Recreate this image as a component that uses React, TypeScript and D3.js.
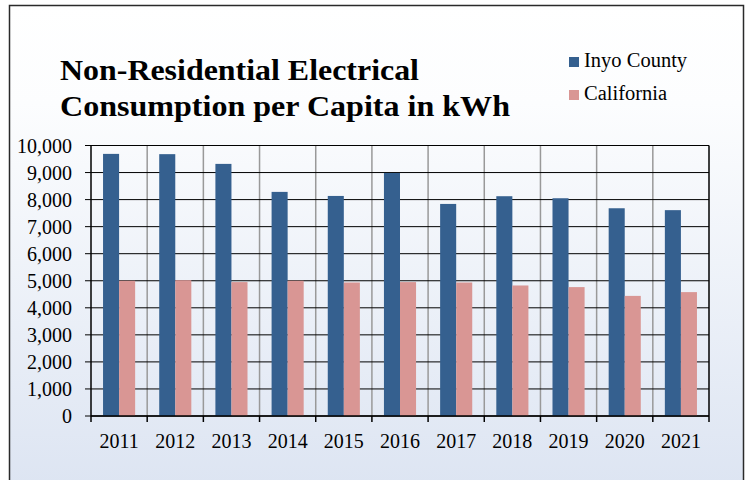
import React from "react";
import { scaleBand, scaleLinear, format } from "d3";

const years = ["2011", "2012", "2013", "2014", "2015", "2016", "2017", "2018", "2019", "2020", "2021"];
const inyo = [9690, 9680, 9320, 8285, 8135, 8985, 7840, 8125, 8050, 7680, 7610];
const california = [5000, 5020, 4950, 5000, 4935, 4950, 4935, 4825, 4765, 4440, 4580];
const seriesNames = ["Inyo County", "California"];
const colors = ["#35608f", "#d99694"];
const yTicks = [0, 1000, 2000, 3000, 4000, 5000, 6000, 7000, 8000, 9000, 10000];
const titleLines = ["Non-Residential Electrical", "Consumption per Capita in kWh"];

const width = 749;
const height = 480;
const margin = { top: 145.5, right: 40, bottom: 64, left: 91 };
const font = '"Liberation Serif", "Times New Roman", serif';

const App = () => {
  const innerWidth = width - margin.left - margin.right;
  const innerHeight = height - margin.top - margin.bottom;

  const xScale = scaleBand().domain(years).range([0, innerWidth]).padding(0);
  const xInner = scaleBand()
    .domain(seriesNames)
    .range([0, xScale.bandwidth()])
    .paddingInner(0)
    .paddingOuter(0.75);
  const yScale = scaleLinear().domain([0, 10000]).range([innerHeight, 0]);
  const fmt = format(",");

  const series = [inyo, california];

  return (
    <svg width={width} height={height} style={{ position: "absolute", left: 0, top: 0, fontFamily: font }}>
      <defs>
        <linearGradient id="bg" x1="0" y1="0" x2="0" y2="1">
          <stop offset="0" stopColor="#ffffff" />
          <stop offset="0.2" stopColor="#fcfdfe" />
          <stop offset="1" stopColor="#dce4f2" />
        </linearGradient>
      </defs>
      <rect x={0} y={0} width={width} height={height} fill="#ffffff" />
      <rect x={9.5} y={5.5} width={734} height={490} fill="url(#bg)" stroke="#2a2a2a" strokeWidth={1.5} />

      {/* title - reference glyphs are a bit wider than Times */}
      <text x={60} y={80} fontSize={29} fontWeight="bold" fill="#000" textLength={359} lengthAdjust="spacingAndGlyphs">
        {titleLines[0]}
      </text>
      <text x={60} y={116} fontSize={29} fontWeight="bold" fill="#000" textLength={450} lengthAdjust="spacingAndGlyphs">
        {titleLines[1]}
      </text>

      {/* legend */}
      {seriesNames.map((name, i) => (
        <g key={name} transform={`translate(569, ${57 + i * 33})`}>
          <rect x={0} y={0} width={10} height={10} fill={colors[i]} />
          <text x={15} y={10} fontSize={20.5} fill="#000">{name}</text>
        </g>
      ))}

      <g transform={`translate(${margin.left}, ${margin.top})`}>
        {/* vertical grid */}
        {years.map((y, i) =>
          i > 0 ? (
            <line key={y} x1={xScale(y)} x2={xScale(y)} y1={0} y2={innerHeight} stroke="#999" strokeWidth={1.5} />
          ) : null
        )}
        {/* horizontal grid */}
        {yTicks.map(t => (
          <line key={t} x1={-6} x2={innerWidth} y1={yScale(t)} y2={yScale(t)} stroke="#000" strokeWidth={1} />
        ))}

        {/* bars */}
        {series.map((vals, si) =>
          vals.map((v, i) => (
            <rect
              key={`${si}-${i}`}
              x={(xScale(years[i]) ?? 0) + (xInner(seriesNames[si]) ?? 0)}
              y={yScale(v)}
              width={xInner.bandwidth()}
              height={innerHeight - yScale(v)}
              fill={colors[si]}
            />
          ))
        )}

        {/* axes */}
        <line x1={0} x2={0} y1={0} y2={innerHeight} stroke="#000" strokeWidth={1.5} />
        <line x1={innerWidth} x2={innerWidth} y1={0} y2={innerHeight} stroke="#000" strokeWidth={1.5} />
        <line x1={0} x2={innerWidth} y1={innerHeight} y2={innerHeight} stroke="#000" strokeWidth={1.5} />
        {years.concat(["end"]).map((y, i) => {
          const x = i < years.length ? xScale(y) ?? 0 : innerWidth;
          return <line key={`t${i}`} x1={x} x2={x} y1={innerHeight} y2={innerHeight + 6} stroke="#000" strokeWidth={1.5} />;
        })}

        {yTicks.map(t => (
          <text key={`l${t}`} x={-19} y={yScale(t)} dy="0.35em" textAnchor="end" fontSize={20} fill="#000">
            {fmt(t)}
          </text>
        ))}
        {years.map(y => (
          <text
            key={`x${y}`}
            x={(xScale(y) ?? 0) + xScale.bandwidth() / 2}
            y={innerHeight + 32}
            textAnchor="middle"
            fontSize={20}
            fill="#000"
          >
            {y}
          </text>
        ))}
      </g>
    </svg>
  );
};

export default App;
